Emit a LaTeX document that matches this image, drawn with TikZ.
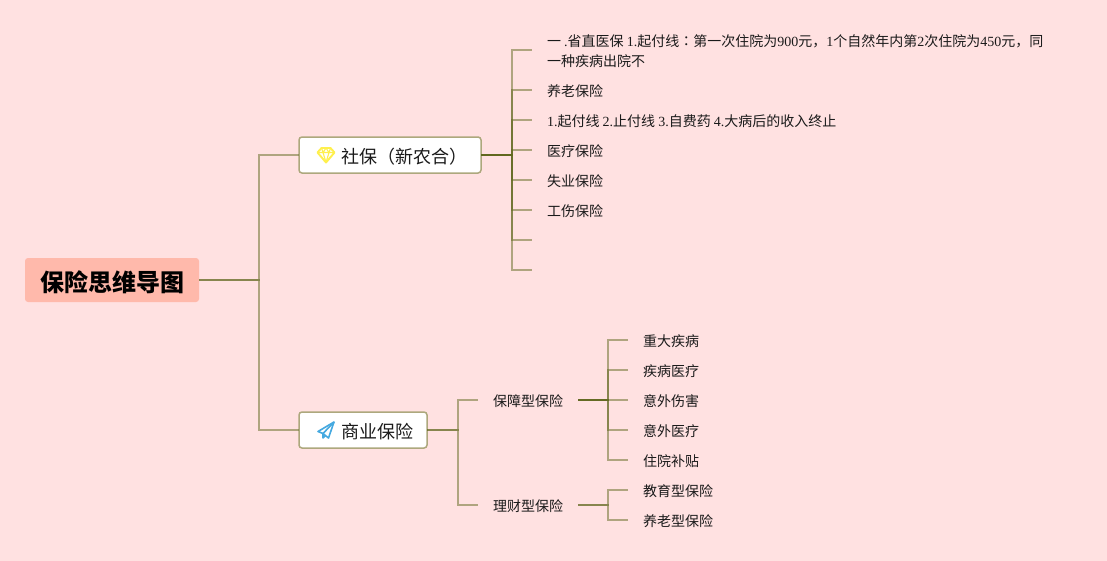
\documentclass[tikz,border=0pt]{standalone}
\usepackage{fontspec}
\setmainfont{Noto Sans CJK SC}
\newfontfamily\latinfont{Liberation Serif}
\newfontfamily\colonfont{Noto Sans CJK TC}
\usepackage{xcolor}
\usetikzlibrary{positioning, calc}

\definecolor{pagebg}{HTML}{FFE1E1}
\definecolor{rootfill}{HTML}{FFB9AB}
\definecolor{linkcol}{HTML}{61681E}
\definecolor{topicline}{HTML}{ADA87D}
\definecolor{inktext}{HTML}{1A1A1A}
\definecolor{gemcol}{HTML}{FFF04D}
\definecolor{planecol}{HTML}{45A9E0}

% moves text down inside its node, the node keeps its size
\newcommand{\lowered}[2]{\raisebox{-#1}[\height][\depth]{#2}}

\begin{document}
\begin{tikzpicture}[
    x=1pt, y=-1pt,
    rootnode/.style={fill=rootfill, rounded corners=3pt, minimum width=174pt, minimum height=44pt,
                     inner sep=0pt, outer sep=0pt, font=\fontsize{24}{28}\selectfont\bfseries},
    topic/.style={draw=topicline, line width=1.5pt, fill=white, rounded corners=3pt, anchor=west,
                  minimum height=36pt, inner xsep=14pt, inner ysep=0pt, outer sep=0pt,
                  text=inktext, font=\fontsize{18}{22}\selectfont},
    leaf/.style={anchor=west, minimum height=30pt, inner xsep=15pt, inner ysep=0pt, outer sep=0pt,
                 text=inktext, font=\fontsize{14}{20}\selectfont},
    nextleaf/.style={leaf, below=0pt of #1.south west, anchor=north west},
    conn/.style={draw=linkcol, draw opacity=0.5, line width=1.8pt},
]

\useasboundingbox (0,0) rectangle (1107,560);
\fill[pagebg] (-5,-5) rectangle (1112,565);

% Root
\node[rootnode] (root) at (112,280) {\lowered{2pt}{保险思维导图}};

% Main branches
\node[topic] (shebao) at (299,155) {\hspace{28pt}\lowered{1.5pt}{社保（新农合）}};
\node[topic] (shangye) at (299,430) {\hspace{28pt}\lowered{1.5pt}{商业保险}};

% Leaves of shebao
\node[leaf] (shengzhi) at (532,50) {\lowered{2pt}{\begin{tabular}{@{}l@{}}一 {\latinfont.}省直医保 {\latinfont 1.}起付线{\colonfont ：}第一次住院为{\latinfont 900}元，{\latinfont 1}个自然年内第{\latinfont 2}次住院为{\latinfont 450}元，同\\一种疾病出院不\end{tabular}}};
\node[leaf] (yanglao) at (532,90) {\lowered{1pt}{养老保险}};
\node[nextleaf=yanglao] (qifu) {\lowered{1pt}{{\latinfont 1.}起付线 {\latinfont 2.}止付线 {\latinfont 3.}自费药 {\latinfont 4.}大病后的收入终止}};
\node[nextleaf=qifu] (yiliao) {\lowered{1pt}{医疗保险}};
\node[nextleaf=yiliao] (shiye) {\lowered{1pt}{失业保险}};
\node[nextleaf=shiye] (gongshang) {\lowered{1pt}{工伤保险}};
\node[nextleaf=gongshang] (blanka) {};
\node[nextleaf=blanka] (blankb) {};

% Second level of shangye
\node[leaf] (baozhang) at (478,400) {\lowered{1pt}{保障型保险}};
\node[leaf] (licai) at (478,505) {\lowered{1pt}{理财型保险}};

% Leaves of baozhang
\node[leaf] (zhongda) at (628,340) {\lowered{1pt}{重大疾病}};
\node[nextleaf=zhongda] (jibing) {\lowered{1pt}{疾病医疗}};
\node[nextleaf=jibing] (shanghai) {\lowered{1pt}{意外伤害}};
\node[nextleaf=shanghai] (yiwai) {\lowered{1pt}{意外医疗}};
\node[nextleaf=yiwai] (zhuyuan) {\lowered{1pt}{住院补贴}};

% Leaves of licai
\node[nextleaf=zhuyuan] (jiaoyu) {\lowered{1pt}{教育型保险}};
\node[nextleaf=jiaoyu] (yanglaox) {\lowered{1pt}{养老型保险}};

% Trunks
\coordinate (trunkroot) at (259,280);
\coordinate (trunkshebao) at (512,155);
\coordinate (trunkshangye) at (458,430);
\coordinate (trunkbaozhang) at (608,400);
\coordinate (trunklicai) at (608,505);

% Connectors
\foreach \child in {shebao, shangye}
    \draw[conn] (root.east) -- (trunkroot) |- (\child.west);
\foreach \child in {shengzhi, yanglao, qifu, yiliao, shiye, gongshang, blanka, blankb}
    \draw[conn] (shebao.east) -- (trunkshebao) |- (\child.west);
\foreach \child in {baozhang, licai}
    \draw[conn] (shangye.east) -- (trunkshangye) |- (\child.west);
\foreach \child in {zhongda, jibing, shanghai, yiwai, zhuyuan}
    \draw[conn] (baozhang.east) -- (trunkbaozhang) |- (\child.west);
\foreach \child in {jiaoyu, yanglaox}
    \draw[conn] (licai.east) -- (trunklicai) |- (\child.west);

% Gem icon
\begin{scope}[shift={($(shebao.west)+(27,0)$)}, draw=gemcol, line width=1.9pt, line join=round]
\draw (-4.5,-7) -- (4.5,-7) -- (8.5,-2.5) -- (0,7.5) -- (-8.5,-2.5) -- cycle;
\draw[line width=1.1pt] (-8.5,-2.5) -- (8.5,-2.5) (-4.5,-7) -- (-3,-2.5) -- (0,7.5) -- (3,-2.5) -- (4.5,-7) (-3,-2.5) -- (0,-7) -- (3,-2.5);
\end{scope}

% Plane icon
\begin{scope}[shift={($(shangye.west)+(27,0)$)}, draw=planecol, line width=1.6pt, line join=round]
\draw (8,-8) -- (-8,1.5) -- (-3,3.5) -- (2.5,8) -- cycle;
\draw (8,-8) -- (-3,3.5) -- (-3,8) -- (-0.5,5.5);
\end{scope}

\end{tikzpicture}
\end{document}
